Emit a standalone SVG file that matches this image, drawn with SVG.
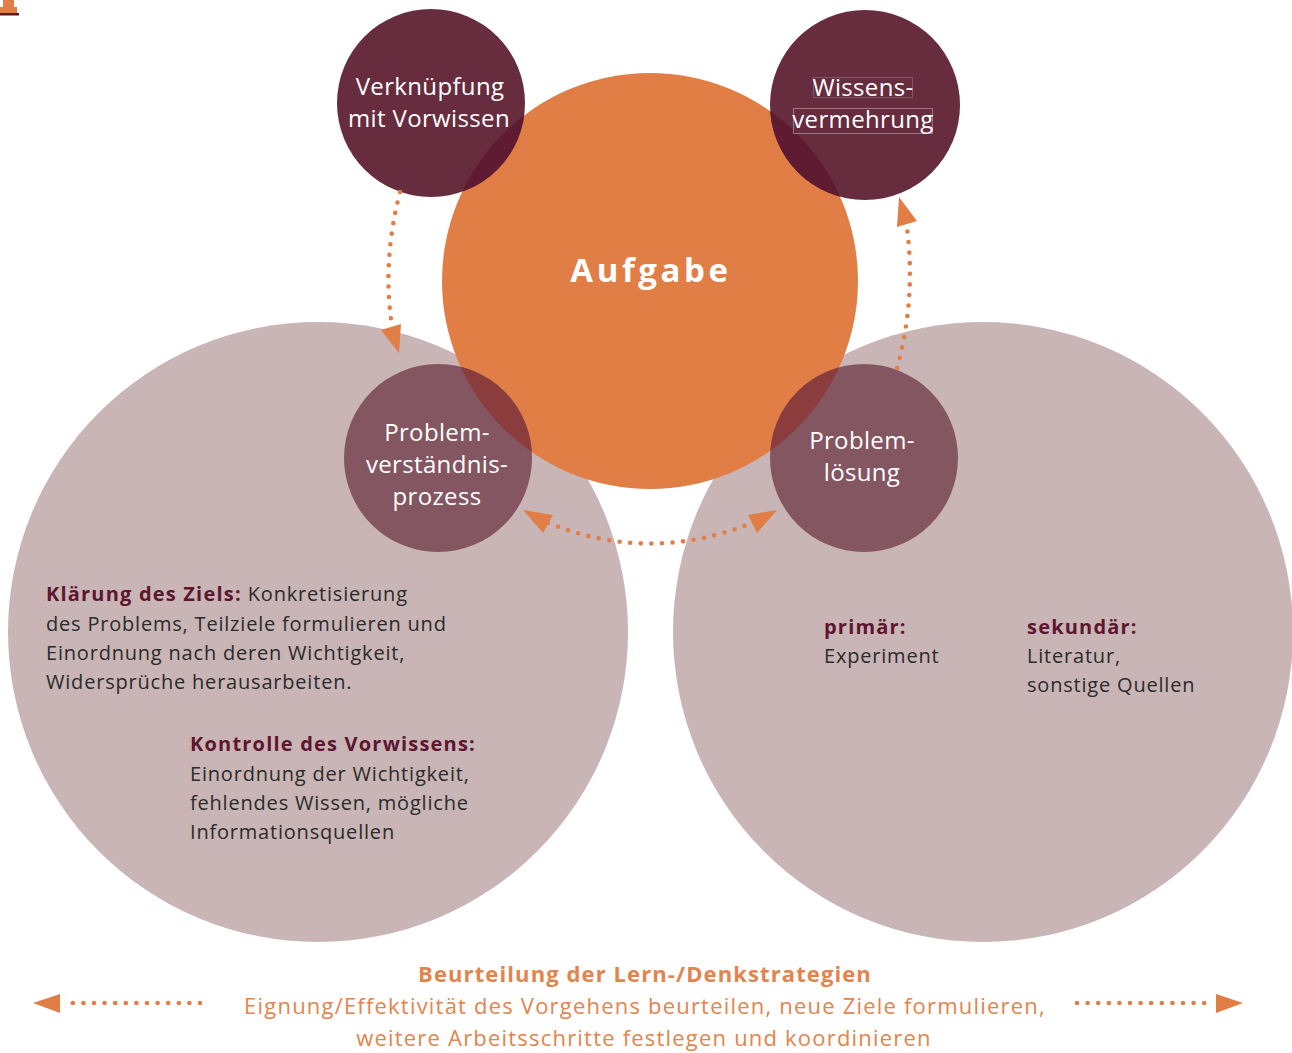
<svg xmlns="http://www.w3.org/2000/svg" width="1292" height="1053" viewBox="0 0 1292 1053">
  <style>
    .big { fill: #c9b5b6; }
    .core { fill: #e07e45; }
    .dark { fill: #672d3e; }
    .mid { fill: #845661; }
    .ov-dark { fill: #5f1b32; }
    .ov-mid { fill: #8b3c3c; }
    .lbl { font-family: "Open Sans", "Noto Sans", "DejaVu Sans", sans-serif; font-size: 24px; letter-spacing: 0.35px; fill: #ffffff; text-anchor: middle; }
    .title { font-family: "Open Sans", "Noto Sans", sans-serif; font-size: 33px; font-weight: bold; fill: #ffffff; text-anchor: middle; letter-spacing: 3.6px; }
    .body { font-family: "Open Sans", "Noto Sans", sans-serif; font-size: 20px; letter-spacing: 0.8px; fill: #2b2b2b; }
    .hd { font-weight: bold; fill: #5e1530; letter-spacing: 1.2px; }
    .foot { font-family: "Open Sans", "Noto Sans", sans-serif; font-size: 22px; letter-spacing: 1.2px; fill: #e3844c; text-anchor: middle; }
    .foot-hd { font-weight: bold; letter-spacing: 1.1px; }
    .dots { fill: none; stroke: #e07e45; stroke-width: 4.6; stroke-linecap: round; stroke-dasharray: 0 10.6; }
    .head { fill: #e07e45; }
    .box { fill: none; stroke: #ffffff; stroke-width: 1; }
  </style>
  <defs>
    <clipPath id="clip-core"><circle cx="650" cy="281" r="208"/></clipPath>
  </defs>

  <rect width="1292" height="1053" fill="#ffffff"/>

  <!-- corner mark -->
  <g id="corner-mark">
    <path d="M3,0 H14 V7 H17 V13 H0 V7 H3 Z" fill="#e07e45"/>
    <rect x="0" y="13" width="19" height="2.5" fill="#5e1530"/>
  </g>

  <!-- large background areas -->
  <g id="area-left"><circle class="big" cx="318" cy="632" r="310"/></g>
  <g id="area-right"><circle class="big" cx="983" cy="632" r="310"/></g>

  <!-- central task -->
  <g id="aufgabe">
    <circle class="core" cx="650" cy="281" r="208"/>
    <text class="title" x="651" y="282">Aufgabe</text>
  </g>

  <g id="verknuepfung">
    <circle class="dark" cx="431" cy="103" r="94"/>
    <circle class="ov-dark" cx="431" cy="103" r="94" clip-path="url(#clip-core)"/>
    <text class="lbl" x="430" y="95">Verknüpfung</text>
    <text class="lbl" x="429" y="127">mit Vorwissen</text>
  </g>

  <g id="wissensvermehrung">
    <circle class="dark" cx="865" cy="105" r="95"/>
    <circle class="ov-dark" cx="865" cy="105" r="95" clip-path="url(#clip-core)"/>
    <text class="lbl" x="863" y="96">Wissens-</text>
    <text class="lbl" x="863" y="128">vermehrung</text>
    <rect class="box" x="813.5" y="77.5" width="99" height="20" stroke-opacity="0.2"/>
    <rect class="box" x="793.5" y="108.5" width="139" height="25" stroke-opacity="0.35"/>
  </g>

  <g id="problemverstaendnis">
    <circle class="mid" cx="438" cy="458" r="94"/>
    <circle class="ov-mid" cx="438" cy="458" r="94" clip-path="url(#clip-core)"/>
    <text class="lbl" x="437" y="441">Problem-</text>
    <text class="lbl" x="437" y="473">verständnis-</text>
    <text class="lbl" x="437" y="505">prozess</text>
  </g>

  <g id="problemloesung">
    <circle class="mid" cx="864" cy="458" r="94"/>
    <circle class="ov-mid" cx="864" cy="458" r="94" clip-path="url(#clip-core)"/>
    <text class="lbl" x="862" y="449">Problem-</text>
    <text class="lbl" x="862" y="481">lösung</text>
  </g>

  <!-- descriptive texts -->
  <g id="text-klaerung" class="body">
    <text x="46" y="601"><tspan class="hd">Klärung des Ziels:</tspan> Konkretisierung</text>
    <text x="46" y="631">des Problems, Teilziele formulieren und</text>
    <text x="46" y="660">Einordnung nach deren Wichtigkeit,</text>
    <text x="46" y="689">Widersprüche herausarbeiten.</text>
  </g>
  <g id="text-kontrolle" class="body">
    <text x="190" y="751" class="hd">Kontrolle des Vorwissens:</text>
    <text x="190" y="781">Einordnung der Wichtigkeit,</text>
    <text x="190" y="810">fehlendes Wissen, mögliche</text>
    <text x="190" y="839">Informationsquellen</text>
  </g>
  <g id="text-primaer" class="body">
    <text x="824" y="634" class="hd">primär:</text>
    <text x="824" y="663">Experiment</text>
  </g>
  <g id="text-sekundaer" class="body">
    <text x="1027" y="634" class="hd">sekundär:</text>
    <text x="1027" y="663">Literatur,</text>
    <text x="1027" y="692">sonstige Quellen</text>
  </g>

  <g id="beurteilung" class="foot">
    <text x="645" y="982" class="foot-hd">Beurteilung der Lern-/Denkstrategien</text>
    <text x="645" y="1014">Eignung/Effektivität des Vorgehens beurteilen, neue Ziele formulieren,</text>
    <text x="644" y="1046">weitere Arbeitsschritte festlegen und koordinieren</text>
  </g>

  <!-- dotted connectors -->
  <g id="connectors">
    <path class="dots" d="M400,192 Q382,262 392,326"/>
    <polygon class="head" points="381,330 401,324 399,353"/>

    <path class="dots" d="M897,368 Q916,300 907,228"/>
    <polygon class="head" points="897,227 917,221 899,197"/>

    <path class="dots" d="M548,523 Q650,564 752,523"/>
    <polygon class="head" points="523,510 553,515 543,533"/>
    <polygon class="head" points="777,510 748,515 757,533"/>

    <path class="dots" d="M200,1003 H70"/>
    <polygon class="head" points="33,1003 60,994 60,1013"/>

    <path class="dots" d="M1077,1003 H1214"/>
    <polygon class="head" points="1243,1003 1216,994 1216,1013"/>
  </g>
</svg>
